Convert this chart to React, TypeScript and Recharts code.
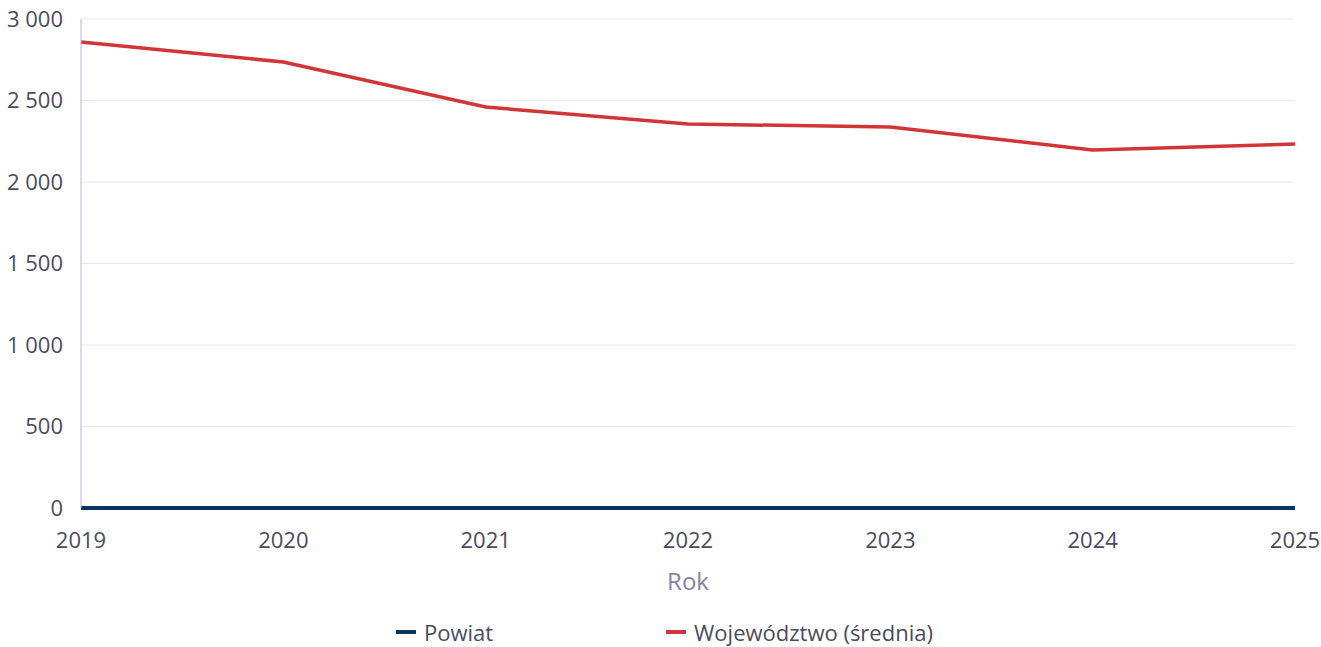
import { LineChart, Line, XAxis, YAxis, CartesianGrid, Legend } from 'recharts'

// ─── Data ─────────────────────────────────────────────────────────────────────
const years = ['2019', '2020', '2021', '2022', '2023', '2024', '2025']
const powiat = [0, 0, 0, 0, 0, 0, 0]
const wojewodztwo = [2859, 2736, 2460, 2356, 2337, 2196, 2233]
const yTicks = [0, 500, 1000, 1500, 2000, 2500, 3000]

const data = years.map((rok, i) => ({ rok, powiat: powiat[i], wojewodztwo: wojewodztwo[i] }))

// ─── Styles ───────────────────────────────────────────────────────────────────
const FONT = '"Open Sans", sans-serif'
const TEXT = '#4a4b63'
const NAVY = '#0b3463'
const RED = '#d13538'

const fmt = (v: number) => String(v).replace(/\B(?=(\d{3})+(?!\d))/g, ' ')

const series = [
  { key: 'powiat', name: 'Powiat', color: NAVY },
  { key: 'wojewodztwo', name: 'Województwo (średnia)', color: RED },
]

function ChartLegend() {
  return (
    <div style={{ height: 49, display: 'flex', justifyContent: 'center', paddingTop: 24, paddingLeft: 34, boxSizing: 'border-box', fontFamily: FONT }}>
      {series.map((s, i) => (
        <div key={s.key} style={{ display: 'flex', alignItems: 'center', width: i === 0 ? 270 : 'auto', height: 20 }}>
          <span style={{ display: 'inline-block', width: 20, height: 4, background: s.color, marginRight: 8 }} />
          <span style={{ color: TEXT, fontSize: 22 }}>{s.name}</span>
        </div>
      ))}
    </div>
  )
}

export default function App() {
  return (
    <div style={{ width: 1321, height: 647 }}>
      <style>{'body{margin:0}'}</style>
      <LineChart width={1321} height={647} data={data} margin={{ top: 19, right: 26, left: 0, bottom: 0 }}>
        <CartesianGrid vertical={false} stroke="#e8e8ef" />
        <XAxis
          dataKey="rok"
          height={90}
          axisLine={false}
          tickLine={false}
          tickMargin={18}
          tick={{ fill: TEXT, fontSize: 22, fontFamily: FONT }}
          label={{ value: 'Rok', position: 'insideBottom', offset: 8, fill: '#8183a8', fontSize: 24, fontFamily: FONT }}
        />
        <YAxis
          width={81}
          domain={[0, 3000]}
          ticks={yTicks}
          tickFormatter={fmt}
          axisLine={{ stroke: '#b6b6d8' }}
          tickLine={false}
          tickMargin={12}
          tick={{ fill: TEXT, fontSize: 22, fontFamily: FONT }}
        />
        <Legend verticalAlign="bottom" content={<ChartLegend />} />
        <Line type="linear" dataKey="wojewodztwo" name="Województwo (średnia)" stroke={RED} strokeWidth={3.5} dot={false} isAnimationActive={false} />
        <Line type="linear" dataKey="powiat" name="Powiat" stroke={NAVY} strokeWidth={4} dot={false} isAnimationActive={false} />
      </LineChart>
    </div>
  )
}
